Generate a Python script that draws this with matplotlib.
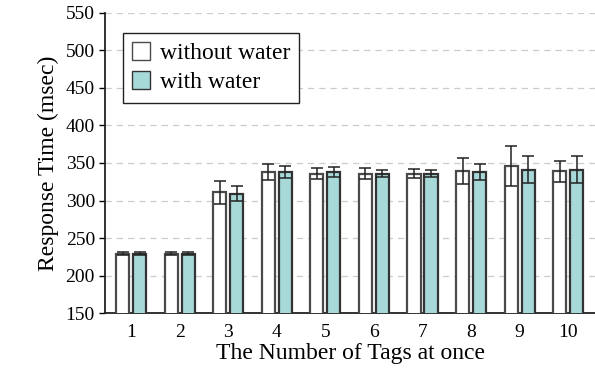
import numpy as np
import matplotlib.pyplot as plt

plt.rcParams['font.family'] = ['Liberation Serif', 'DejaVu Serif']

tags = [1, 2, 3, 4, 5, 6, 7, 8, 9, 10]
without_water = [229, 229, 311, 338, 336, 336, 336, 339, 346, 339]
without_err = [2, 2, 15, 11, 7, 7, 6, 17, 27, 14]
with_water = [229, 229, 309, 338, 338, 336, 336, 338, 341, 341]
with_err = [2, 2, 10, 8, 6, 4, 4, 11, 18, 18]

fig, ax = plt.subplots(figsize=(5.95, 3.89), dpi=100)
fig.subplots_adjust(left=0.177, right=1.0, bottom=0.195, top=0.967)

x = np.array(tags)
w = 0.27
off = 0.175
ax.bar(x - off, without_water, w, color='white', edgecolor='#4a4a4a',
       linewidth=1.6, yerr=without_err, capsize=4,
       error_kw=dict(ecolor='#222222', elinewidth=1.1, capthick=1.1),
       label='without water', zorder=3)
ax.bar(x + off, with_water, w, color='#a8d9d9', edgecolor='#333333',
       linewidth=1.6, yerr=with_err, capsize=4,
       error_kw=dict(ecolor='#222222', elinewidth=1.1, capthick=1.1),
       label='with water', zorder=3)

ax.set_ylim(150, 550)
ax.set_xlim(0.47, 10.55)
ax.set_yticks(range(150, 551, 50))
ax.set_xticks(tags)
ax.tick_params(axis='x', length=0, labelsize=14, pad=8)
ax.tick_params(axis='y', labelsize=14, length=4, width=1)
ax.yaxis.grid(True, linestyle=(0, (5, 4)), color='#cccccc', linewidth=0.9, zorder=0)
ax.set_axisbelow(True)
for s in ['top', 'right']:
    ax.spines[s].set_visible(False)
ax.spines['left'].set_linewidth(1.3)
ax.spines['bottom'].set_linewidth(1.3)
ax.spines['left'].set_color('#222222')
ax.spines['bottom'].set_color('#222222')

ax.set_xlabel('The Number of Tags at once', fontsize=17, labelpad=1)
ax.set_ylabel('Response Time (msec)', fontsize=17, labelpad=5)

leg = ax.legend(loc='upper left', bbox_to_anchor=(0.012, 0.972), fontsize=17,
                fancybox=False, framealpha=1, edgecolor='#222222',
                handlelength=0.75, handleheight=0.75, handletextpad=0.4,
                borderpad=0.4, labelspacing=0.3)
leg.get_frame().set_linewidth(1.0)
for h in leg.legend_handles:
    h.set_linewidth(1.0)

fig.savefig('out.png', dpi=100)
